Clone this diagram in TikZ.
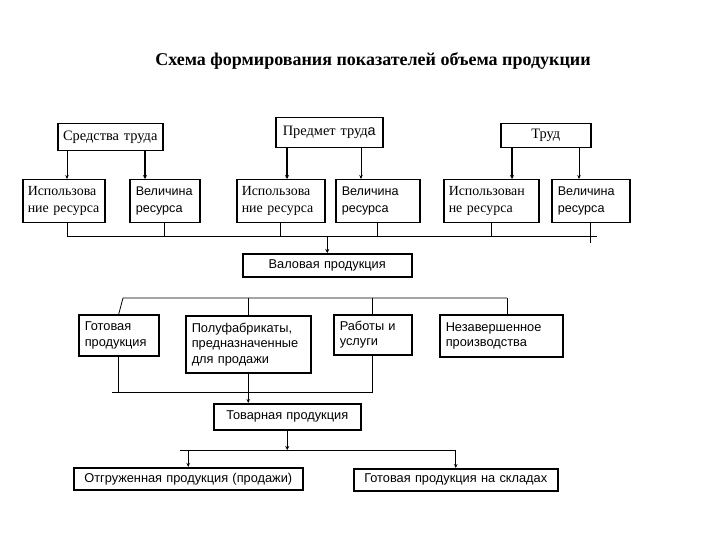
\documentclass[tikz,border=0pt]{standalone}
\usepackage{fontspec}
\setmainfont{Liberation Serif}
\setsansfont{Liberation Sans}
\usetikzlibrary{arrows.meta}
\begin{document}
\begin{tikzpicture}[x=1pt,y=-1pt,
  bx/.style={draw, line width=1.5pt, anchor=north west, inner xsep=6pt, inner ysep=0pt},
  sfb/.style={font=\sffamily\fontsize{12.8}{15.5}\selectfont},
  sfr/.style={font=\sffamily\fontsize{12.6}{17}\selectfont},
  rmb/.style={font=\fontsize{13.9}{17}\selectfont},
  rmt/.style={font=\fontsize{14.4}{17}\selectfont},
  ln/.style={line width=0.8pt},
  arr/.style={line width=0.8pt, -{Stealth[length=4pt,width=3.5pt]}},
  tarr/.style={line width=1.5pt, -{Stealth[length=4pt,width=4pt]}}]
\useasboundingbox (0,0) rectangle (720,540);

\node[font=\bfseries\fontsize{18}{20}\selectfont] (title) at (373,61) {Схема формирования показателей объема продукции};

% row 1
\node[bx, rmt, align=center, inner xsep=1pt, text width=103pt, minimum height=27pt] (sred) at (57,123) {Средства труда};
\node[bx, rmt, align=center, inner xsep=1pt, text width=105pt, minimum height=30pt] (pred) at (275,117) {Предмет труд{\sffamily а}};
\node[bx, rmt, align=center, inner xsep=1pt, text width=88pt, minimum height=24pt] (trud) at (500,123) {Труд};

% row 2
\node[bx, rmb, align=left, text width=72pt, minimum height=43pt, inner xsep=5pt] (r1) at (22,179) {Использова\\ние ресурса};
\node[bx, sfr, align=left, text width=58pt, minimum height=43pt] (r2) at (129,179) {Величина\\ресурса};
\node[bx, rmb, align=left, text width=78pt, minimum height=43pt, inner xsep=5pt] (r3) at (236,179) {Использова\\ние ресурса};
\node[bx, sfr, align=left, text width=72pt, minimum height=43pt] (r4) at (335,179) {Величина\\ресурса};
\node[bx, rmb, align=left, text width=85pt, minimum height=43pt, inner xsep=5pt] (r5) at (443,179) {Использован\\не ресурса};
\node[bx, sfr, align=left, text width=66pt, minimum height=43pt] (r6) at (551,179) {Величина\\ресурса};

\node[bx, sfb, align=center, text width=157pt, minimum height=23pt] (val) at (242,253) {Валовая продукция};

% row 3
\node[bx, sfb, align=left, text width=68pt, minimum height=41pt] (g1) at (78,314) {Готовая\\продукция};
\node[bx, sfb, align=left, text width=113pt, minimum height=57pt] (p1) at (185,315) {Полуфабрикаты,\\предназначенные\\для продажи};
\node[bx, sfb, align=left, text width=66pt, minimum height=40pt] (w1) at (333,314) {Работы и\\услуги};
\node[bx, sfb, align=left, text width=111pt, minimum height=42pt] (n1) at (439,314) {Незавершенное\\производства};

\node[bx, sfb, align=center, text width=135pt, minimum height=26pt] (tov) at (213,403) {Товарная продукция};

\node[bx, sfb, align=center, text width=217pt, minimum height=22pt] (otg) at (73,467) {Отгруженная продукция (продажи)};
\node[bx, sfb, align=center, text width=192pt, minimum height=22pt] (skl) at (353,468) {Готовая продукция на складах};

% helper coordinates
\coordinate (x67) at (67,0);
\coordinate (x145) at (145,0);
\coordinate (x287) at (287,0);
\coordinate (x361) at (361,0);
\coordinate (x512) at (512,0);
\coordinate (x579) at (579,0);
\coordinate (bus1) at (0,236);
\coordinate (bus1E) at (597,236);
\coordinate (tick) at (0,243);
\coordinate (bus2L) at (123,298);
\coordinate (bus2E) at (507,298);
\coordinate (bus3L) at (112,392);
\coordinate (bus4L) at (180,450);

% row1 -> row2
\draw[arr] (x67 |- sred.south) -- (x67 |- r1.north);
\draw[tarr] (x145 |- sred.south) -- (x145 |- r2.north);
\draw[tarr] (x287 |- pred.south) -- (x287 |- r3.north);
\draw[arr] (x361 |- pred.south) -- (x361 |- r4.north);
\draw[tarr] (x512 |- trud.south) -- (x512 |- r5.north);
\draw[arr] (x579 |- trud.south) -- (x579 |- r6.north);

% bus 1
\draw[ln] (x67 |- r1.south) -- (x67 |- bus1) -- (bus1E);
\draw[ln] (r2.south) -- (r2.south |- bus1);
\draw[ln] (r3.south) -- (r3.south |- bus1);
\draw[ln] (r4.south) -- (r4.south |- bus1);
\draw[ln] (r5.south) -- (r5.south |- bus1);
\draw[ln] (r6.south) -- (r6.south |- tick);
\draw[tarr] (val.north |- bus1) -- (val.north);

% bus 2
\draw[ln] (g1.north) -- (bus2L) -- (bus2E);
\draw[ln] (p1.north |- bus2L) -- (p1.north);
\draw[ln] (w1.north |- bus2L) -- (w1.north);
\draw[ln] (bus2E) -- (bus2E |- n1.north);

% bus 3
\draw[ln] (bus3L) -- (w1.south |- bus3L) -- (w1.south);
\draw[ln] (g1.south) -- (g1.south |- bus3L);
\draw[arr] (p1.south) -- (p1.south |- tov.north);

% bus 4
\draw[tarr] (tov.south) -- (tov.south |- bus4L);
\draw[ln] (bus4L) -- (skl.north |- bus4L);
\draw[arr] (otg.north |- bus4L) -- (otg.north);
\draw[arr] (skl.north |- bus4L) -- (skl.north);
\end{tikzpicture}
\end{document}
